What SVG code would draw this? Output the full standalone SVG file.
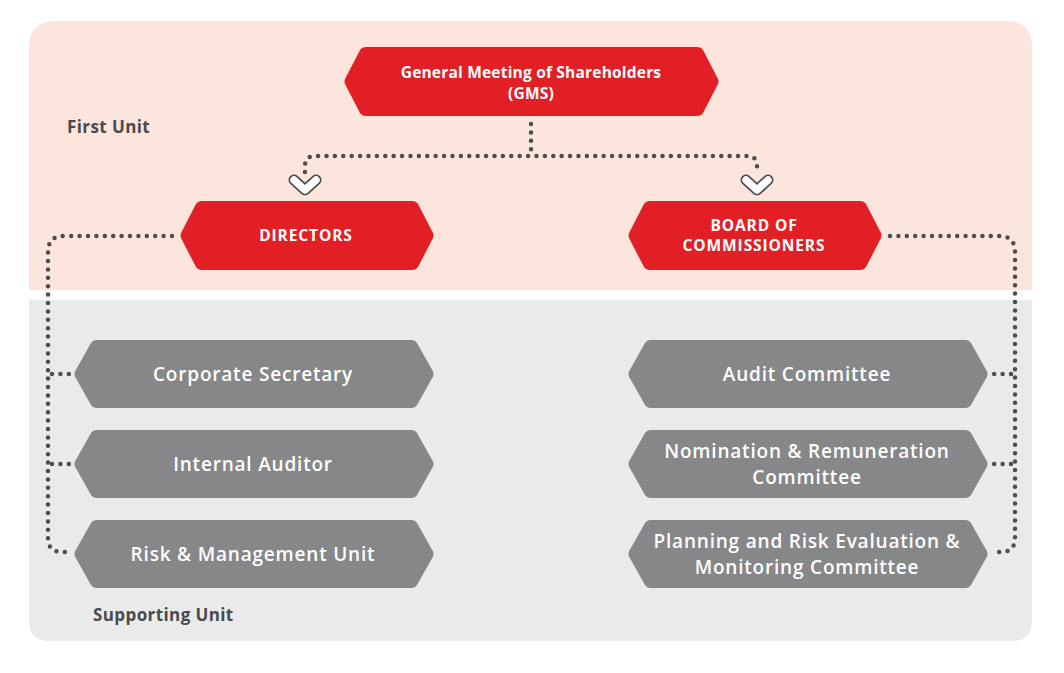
<svg xmlns="http://www.w3.org/2000/svg" width="1064" height="673" viewBox="0 0 1064 673">
<style>
.red{fill:#e31f26}
.gray{fill:#868789}
.tw{fill:#ffffff;font-family:"Open Sans","Liberation Sans",sans-serif;text-anchor:middle}
.tr{font-size:15.5px;font-weight:700;letter-spacing:0.2px}
.tc{font-size:15.5px;font-weight:700;letter-spacing:0.9px}
.tg{font-size:19px;font-weight:600;letter-spacing:0.8px}
.lbl{fill:#4a4a4c;font-family:"Open Sans","Liberation Sans",sans-serif;font-size:17px;font-weight:700;letter-spacing:0.4px}
.dot{fill:none;stroke:#4d4d4f;stroke-width:4.5;stroke-linecap:round;stroke-dasharray:0 8.4}
.chevO{fill:none;stroke:#4d4d4f;stroke-width:11;stroke-linecap:round;stroke-linejoin:round}
.chevI{fill:none;stroke:#ffffff;stroke-width:7.5;stroke-linecap:round;stroke-linejoin:round}
</style>
<rect width="1064" height="673" fill="#ffffff"/>
<g id="panels">
<path d="M29,290 V47 Q29,21 55,21 H1006 Q1032,21 1032,47 V290 Z" fill="#fce5dc"/>
<path d="M29,300 H1032 V621 Q1032,641 1012,641 H49 Q29,641 29,621 Z" fill="#e9eaea"/>
<text class="lbl" x="67" y="133">First Unit</text>
<text class="lbl" x="93" y="621">Supporting Unit</text>
</g>
<g id="connectors">
<path class="dot" d="M531,124 V150"/>
<path class="dot" d="M305,172 V166 Q305,156 315,156 H747 Q757,156 757,166 V172"/>
<path class="chevO" d="M294,180 L305,190 L316,180"/>
<path class="chevI" d="M294,180 L305,190 L316,180"/>
<path class="chevO" d="M746,180 L757,190 L768,180"/>
<path class="chevI" d="M746,180 L757,190 L768,180"/>
<path class="dot" d="M172,236 H64 Q48,236 48,252 V538 Q48,552 62,552 H68"/>
<path class="dot" d="M52,374 H69"/>
<path class="dot" d="M52,464 H69"/>
<path class="dot" d="M890,236 H999 Q1015,236 1015,252 V538 Q1015,552 1001,552 H994"/>
<path class="dot" d="M1011,374 H994"/>
<path class="dot" d="M1011,464 H994"/>
</g>
<g id="gms">
<path class="red" d="M366,47 H697 Q701,47 703,50 L718,79 Q719,81.5 718,84 L703,113 Q701,116 697,116 H366 Q362,116 360,113 L345,84 Q344,81.5 345,79 L360,50 Q362,47 366,47 Z"/>
<text class="tw tr" x="531" y="78">General Meeting of Shareholders</text>
<text class="tw tr" x="531" y="99">(GMS)</text>
</g>
<g id="directors">
<path class="red" d="M202,201 H412 Q416,201 418,204 L433,233 Q434,235.5 433,238 L418,267 Q416,270 412,270 H202 Q198,270 196,267 L181,238 Q180,235.5 181,233 L196,204 Q198,201 202,201 Z"/>
<text class="tw tc" x="306" y="241">DIRECTORS</text>
</g>
<g id="board">
<path class="red" d="M650,201 H860 Q864,201 866,204 L881,233 Q882,235.5 881,238 L866,267 Q864,270 860,270 H650 Q646,270 644,267 L629,238 Q628,235.5 629,233 L644,204 Q646,201 650,201 Z"/>
<text class="tw tc" x="754" y="231">BOARD OF</text>
<text class="tw tc" x="754" y="251">COMMISSIONERS</text>
</g>
<g id="corporate-secretary">
<path class="gray" d="M97,340 H411 Q415,340 417,343 L433,371.5 Q434,374 433,376.5 L417,405 Q415,408 411,408 H97 Q93,408 91,405 L75,376.5 Q74,374 75,371.5 L91,343 Q93,340 97,340 Z"/>
<text class="tw tg" x="253" y="381">Corporate Secretary</text>
</g>
<g id="internal-auditor">
<path class="gray" d="M97,430 H411 Q415,430 417,433 L433,461.5 Q434,464 433,466.5 L417,495 Q415,498 411,498 H97 Q93,498 91,495 L75,466.5 Q74,464 75,461.5 L91,433 Q93,430 97,430 Z"/>
<text class="tw tg" x="253" y="471">Internal Auditor</text>
</g>
<g id="risk-management-unit">
<path class="gray" d="M97,520 H411 Q415,520 417,523 L433,551.5 Q434,554 433,556.5 L417,585 Q415,588 411,588 H97 Q93,588 91,585 L75,556.5 Q74,554 75,551.5 L91,523 Q93,520 97,520 Z"/>
<text class="tw tg" x="253" y="561">Risk &amp; Management Unit</text>
</g>
<g id="audit-committee">
<path class="gray" d="M651,340 H965 Q969,340 971,343 L987,371.5 Q988,374 987,376.5 L971,405 Q969,408 965,408 H651 Q647,408 645,405 L629,376.5 Q628,374 629,371.5 L645,343 Q647,340 651,340 Z"/>
<text class="tw tg" x="807" y="381">Audit Committee</text>
</g>
<g id="nomination-remuneration-committee">
<path class="gray" d="M651,430 H965 Q969,430 971,433 L987,461.5 Q988,464 987,466.5 L971,495 Q969,498 965,498 H651 Q647,498 645,495 L629,466.5 Q628,464 629,461.5 L645,433 Q647,430 651,430 Z"/>
<text class="tw tg" x="807" y="458">Nomination &amp; Remuneration</text>
<text class="tw tg" x="807" y="484">Committee</text>
</g>
<g id="planning-risk-evaluation-monitoring-committee">
<path class="gray" d="M651,520 H965 Q969,520 971,523 L987,551.5 Q988,554 987,556.5 L971,585 Q969,588 965,588 H651 Q647,588 645,585 L629,556.5 Q628,554 629,551.5 L645,523 Q647,520 651,520 Z"/>
<text class="tw tg" x="807" y="548">Planning and Risk Evaluation &amp;</text>
<text class="tw tg" x="807" y="574">Monitoring Committee</text>
</g>
</svg>
